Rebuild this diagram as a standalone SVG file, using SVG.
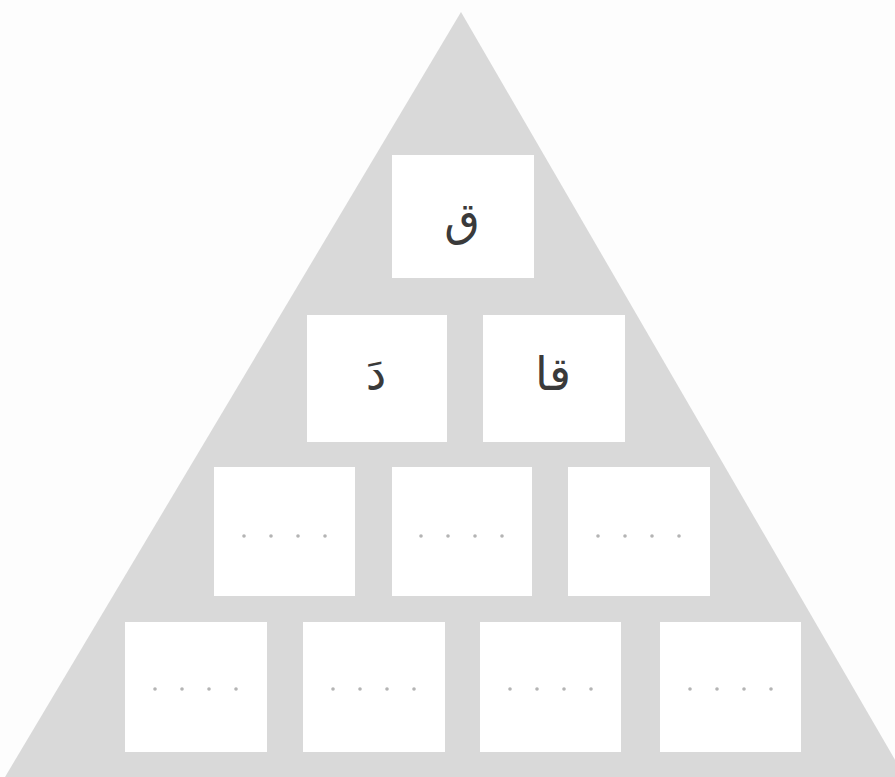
<svg xmlns="http://www.w3.org/2000/svg" width="895" height="777" viewBox="0 0 895 777">
  <style>
    .box { fill: #ffffff; }
    .dot { fill: #b4b4b4; }
    .ar { font-family: "DejaVu Sans", "Noto Sans", sans-serif; font-size: 46px; fill: #3a3a3a; text-anchor: middle; }
  </style>
  <defs>
    <g id="dots4">
      <circle class="dot" cx="0" cy="0" r="1.8"/>
      <circle class="dot" cx="27" cy="0" r="1.8"/>
      <circle class="dot" cx="54" cy="0" r="1.8"/>
      <circle class="dot" cx="81" cy="0" r="1.8"/>
    </g>
  </defs>
  <rect width="895" height="777" fill="#fdfdfd"/>
  <polygon id="pyramid" points="461,12 5,777 905,777" fill="#d9d9d9"/>

  <g id="n1">
    <rect class="box" x="392" y="155" width="142" height="123"/>
    <text class="ar" x="462" y="235" direction="rtl">ق</text>
  </g>
  <g id="n2">
    <rect class="box" x="307" y="315" width="140" height="127"/>
    <text class="ar" x="376" y="390" direction="rtl">دَ</text>
  </g>
  <g id="n3">
    <rect class="box" x="483" y="315" width="142" height="127"/>
    <text class="ar" x="553" y="390" direction="rtl">قا</text>
  </g>

  <g id="n4">
    <rect class="box" x="214" y="467" width="141" height="129"/>
    <use href="#dots4" x="244" y="536"/>
  </g>
  <g id="n5">
    <rect class="box" x="392" y="467" width="140" height="129"/>
    <use href="#dots4" x="421" y="536"/>
  </g>
  <g id="n6">
    <rect class="box" x="568" y="467" width="142" height="129"/>
    <use href="#dots4" x="598" y="536"/>
  </g>

  <g id="n7">
    <rect class="box" x="125" y="622" width="142" height="130"/>
    <use href="#dots4" x="155" y="689"/>
  </g>
  <g id="n8">
    <rect class="box" x="303" y="622" width="142" height="130"/>
    <use href="#dots4" x="333" y="689"/>
  </g>
  <g id="n9">
    <rect class="box" x="480" y="622" width="141" height="130"/>
    <use href="#dots4" x="510" y="689"/>
  </g>
  <g id="n10">
    <rect class="box" x="660" y="622" width="141" height="130"/>
    <use href="#dots4" x="690" y="689"/>
  </g>
</svg>
